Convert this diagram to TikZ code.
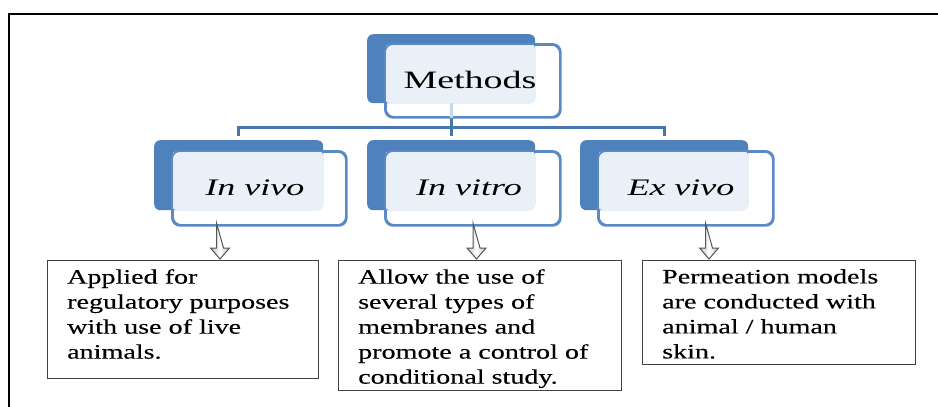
\documentclass[tikz,border=0pt]{standalone}
\usepackage{fontspec}
\setmainfont[FakeStretch=1.37,FakeBold=0.3]{Liberation Serif}
\newfontfamily\headfont[FakeStretch=1.52]{Liberation Serif}
\usetikzlibrary{calc}
\definecolor{backblue}{HTML}{4F81BD}
\definecolor{frontline}{HTML}{5A8AC6}
\definecolor{lightfill}{HTML}{EAF0F8}
\definecolor{connblue}{HTML}{4676B0}
\definecolor{faintblue}{HTML}{C9D7EA}
\definecolor{boxline}{HTML}{404040}
\definecolor{arrowline}{HTML}{555555}
\tikzset{
  backbox/.style={anchor=north west, fill=backblue, draw=none, rounded corners=6pt, inner sep=0pt},
  frontbox/.style={anchor=north west, draw=frontline, line width=1.8pt, rounded corners=8pt, inner sep=0pt, fill=none},
  overlap/.style={fill=lightfill, rounded corners=5pt},
  conn/.style={draw=connblue, line width=3pt},
  textbox/.style={anchor=north west, draw=boxline, line width=1.4pt, inner sep=0pt},
  bodytext/.style={anchor=north west, inner sep=0pt, align=left, font=\rmfamily\fontsize{20.5}{25}\selectfont},
  headtext/.style={anchor=base, inner sep=0pt, font=\headfont\fontsize{25}{30}\selectfont},
  subtext/.style={anchor=base, inner sep=0pt, font=\headfont\itshape\fontsize{23.7}{28}\selectfont},
  hollowarrow/.pic={
    \draw[draw=arrowline, line width=1pt, left color=gray!50, right color=gray!50, middle color=white]
      (-3.5,0) -- (-3.5,25) -- (-9.5,25) -- (0,36) -- (9.5,25) -- (3.5,25) -- cycle;
  }
}
\begin{document}
\begin{tikzpicture}[x=1pt, y=-1pt]
\useasboundingbox (0,0) rectangle (938,407);
\fill[white] (0,0) rectangle (938,407);
% outer frame (top and left edges)
\draw[black, line width=2.6pt] (9,407) -- (9,14) -- (938,14);

% Methods
\node[backbox, minimum width=168pt, minimum height=69pt] (mback) at (367,34) {};
\node[frontbox, minimum width=174pt, minimum height=72pt] (mfront) at (385,44) {};
% children back boxes
\node[backbox, minimum width=169pt, minimum height=70pt] (b1) at (154,140) {};
\node[backbox, minimum width=168pt, minimum height=70pt] (b2) at (367,140) {};
\node[backbox, minimum width=168pt, minimum height=70pt] (b3) at (580,140) {};
\node[frontbox, minimum width=173pt, minimum height=73pt] (f1) at (172,151) {};
\node[frontbox, minimum width=174pt, minimum height=73pt] (f2) at (385,151) {};
\node[frontbox, minimum width=174pt, minimum height=73pt] (f3) at (598,151) {};

% light overlaps
\fill[overlap] (mfront.north west) rectangle (mback.south east);
\fill[overlap] (f1.north west) rectangle (b1.south east);
\fill[overlap] (f2.north west) rectangle (b2.south east);
\fill[overlap] (f3.north west) rectangle (b3.south east);
% redraw front outlines on top
\draw[draw=frontline, line width=1.8pt, rounded corners=8pt] (mfront.north west) rectangle (mfront.south east);
\draw[draw=frontline, line width=1.8pt, rounded corners=8pt] (f1.north west) rectangle (f1.south east);
\draw[draw=frontline, line width=1.8pt, rounded corners=8pt] (f2.north west) rectangle (f2.south east);
\draw[draw=frontline, line width=1.8pt, rounded corners=8pt] (f3.north west) rectangle (f3.south east);

% connectors
\coordinate (j) at ($(mback.south)+(0,24)$);
\coordinate (mexit) at (mback.south |- mfront.south);
\draw[draw=faintblue, line width=3pt] (mback.south) -- (mexit);
\draw[conn] (mexit) -- (j);
\draw[conn] ($(b1.north)+(0,-4)$) |- (j) -| ($(b3.north)+(0,-4)$);
\draw[conn] (j) -- ($(b2.north)+(0,-4)$);

% header texts
\node[headtext] (mtxt) at (470,88) {Methods};
\node[subtext] (s1) at (255,195) {In vivo};
\node[subtext] (s2) at (469,195) {In vitro};
\node[subtext] (s3) at (681,195) {Ex vivo};

% text boxes
\node[textbox, minimum width=271pt, minimum height=118pt] (t1) at (47,260) {};
\node[textbox, minimum width=283pt, minimum height=130pt] (t2) at (338,260) {};
\node[textbox, minimum width=273pt, minimum height=104pt] (t3) at (642,260) {};

\node[bodytext] (t1txt) at (67,269) {Applied for\\regulatory purposes\\with use of live\\animals.};
\node[bodytext] (t2txt) at (358,269) {Allow the use of\\several types of\\membranes and\\promote a control of\\conditional study.};
\node[bodytext] (t3txt) at (662,269) {Permeation models\\are conducted with\\animal / human\\skin.};

% hollow arrows
\coordinate (a1) at (220,223);
\coordinate (a2) at (476.5,223);
\coordinate (a3) at (709,223);
\pic at (a1) {hollowarrow};
\pic at (a2) {hollowarrow};
\pic at (a3) {hollowarrow};
\end{tikzpicture}
\end{document}
